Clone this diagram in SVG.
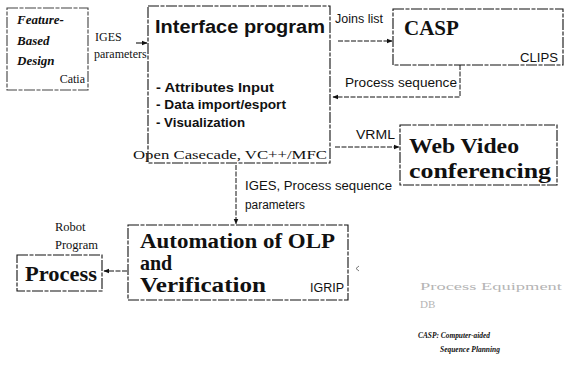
<svg xmlns="http://www.w3.org/2000/svg" width="570" height="365" viewBox="0 0 570 365">
<style>
.box{fill:none;stroke:#111;stroke-width:1.1;stroke-dasharray:11 1.5 4 1.5}
.conn{fill:none;stroke:#111;stroke-width:1;stroke-dasharray:5 1.5}
.solid{fill:none;stroke:#111;stroke-width:1.1}
.ser{font-family:"Liberation Serif",serif;fill:#111}
.sans{font-family:"Liberation Sans",sans-serif;fill:#111}
.bs{font-family:"Liberation Sans",sans-serif;font-weight:bold;fill:#111}
.bser{font-family:"Liberation Serif",serif;font-weight:bold;fill:#111}
</style>
<defs>
<marker id="ah" viewBox="0 0 10 10" refX="9" refY="5" markerWidth="6" markerHeight="6" orient="auto" markerUnits="userSpaceOnUse">
<path d="M0 1 L10 5 L0 9 Z" fill="#111"/>
</marker>
</defs>
<rect width="570" height="365" fill="#fff"/>

<g id="connectors">
<path class="solid" d="M136 43 H147" marker-end="url(#ah)"/>
<path class="conn" d="M338 41 H392" marker-end="url(#ah)"/>
<path class="conn" d="M460 65 V97 H333" marker-end="url(#ah)"/>
<path class="conn" d="M335 147 H399" marker-end="url(#ah)"/>
<path class="conn" d="M236 165 V224" marker-end="url(#ah)"/>
<path class="conn" d="M127 271 H104" marker-end="url(#ah)"/>
<text class="ser" x="95" y="41" font-size="12">IGES</text>
<text class="ser" x="94" y="58" font-size="12">parameters</text>
<text class="sans" x="335" y="23" font-size="12" textLength="48" lengthAdjust="spacingAndGlyphs">Joins list</text>
<text class="sans" x="345" y="87" font-size="12" textLength="112" lengthAdjust="spacingAndGlyphs">Process sequence</text>
<text class="sans" x="356" y="139" font-size="12" textLength="39" lengthAdjust="spacingAndGlyphs">VRML</text>
<text class="sans" x="245" y="190" font-size="12" textLength="147" lengthAdjust="spacingAndGlyphs">IGES, Process sequence</text>
<text class="sans" x="245" y="209" font-size="12" textLength="60" lengthAdjust="spacingAndGlyphs">parameters</text>
<text class="ser" x="55" y="231" font-size="12.5">Robot</text>
<text class="ser" x="55" y="249" font-size="12.5">Program</text>
</g>

<g id="feature">
<rect class="box" x="7" y="8" width="81" height="82" stroke-opacity="0.8"/>
<text class="bser" x="17" y="24" font-size="13" font-style="italic">Feature-</text>
<text class="bser" x="17" y="45" font-size="13" font-style="italic">Based</text>
<text class="bser" x="17" y="65" font-size="13" font-style="italic">Design</text>
<text class="ser" x="85" y="83" font-size="12" text-anchor="end">Catia</text>
</g>

<g id="interface">
<rect class="box" x="148" y="6" width="182" height="157"/>
<text class="bs" x="155" y="33" font-size="18" textLength="170" lengthAdjust="spacingAndGlyphs">Interface program</text>
<text class="bs" x="156" y="92" font-size="12" textLength="118" lengthAdjust="spacingAndGlyphs">- Attributes Input</text>
<text class="bs" x="156" y="109" font-size="12" textLength="130" lengthAdjust="spacingAndGlyphs">- Data import/esport</text>
<text class="bs" x="156" y="127" font-size="12" textLength="89" lengthAdjust="spacingAndGlyphs">- Visualization</text>
<text class="ser" x="133" y="159" font-size="13" textLength="194" lengthAdjust="spacingAndGlyphs">Open Casecade, VC++/MFC</text>
</g>

<g id="casp">
<rect class="box" x="393" y="9" width="170" height="56"/>
<text class="bser" x="404" y="35" font-size="21">CASP</text>
<text class="sans" x="520" y="62" font-size="12" textLength="38" lengthAdjust="spacingAndGlyphs">CLIPS</text>
</g>

<g id="webvideo">
<rect class="box" x="400" y="125" width="157" height="60"/>
<text class="bser" x="409" y="153" font-size="21" textLength="110" lengthAdjust="spacingAndGlyphs">Web Video</text>
<text class="bser" x="409" y="178" font-size="21" textLength="142" lengthAdjust="spacingAndGlyphs">conferencing</text>
</g>

<g id="automation">
<rect class="box" x="128" y="225" width="220" height="75"/>
<text class="bser" x="140" y="248" font-size="20" textLength="195" lengthAdjust="spacingAndGlyphs">Automation of OLP</text>
<text class="bser" x="140" y="270" font-size="20">and</text>
<text class="bser" x="140" y="292" font-size="20" textLength="126" lengthAdjust="spacingAndGlyphs">Verification</text>
<text class="sans" x="310" y="292" font-size="12" textLength="34" lengthAdjust="spacingAndGlyphs">IGRIP</text>
</g>

<g id="process">
<rect class="box" x="17" y="255" width="85" height="36"/>
<text class="bser" x="25" y="281" font-size="20" textLength="72" lengthAdjust="spacingAndGlyphs">Process</text>
</g>

<g id="equipment">
<path d="M359 266 L356 268.5 L359 271" fill="none" stroke="#555" stroke-width="0.8"/>
<text class="ser" x="420" y="290" font-size="11" style="fill:#b5b5b5" textLength="142" lengthAdjust="spacingAndGlyphs">Process Equipment</text>
<text class="ser" x="420" y="308" font-size="11" style="fill:#b5b5b5">DB</text>
</g>

<g id="legend">
<text class="bser" x="418" y="338" font-size="8.5" font-style="italic" textLength="72" lengthAdjust="spacingAndGlyphs">CASP: Computer-aided</text>
<text class="bser" x="440" y="352" font-size="8.5" font-style="italic" textLength="60" lengthAdjust="spacingAndGlyphs">Sequence Planning</text>
</g>
</svg>
